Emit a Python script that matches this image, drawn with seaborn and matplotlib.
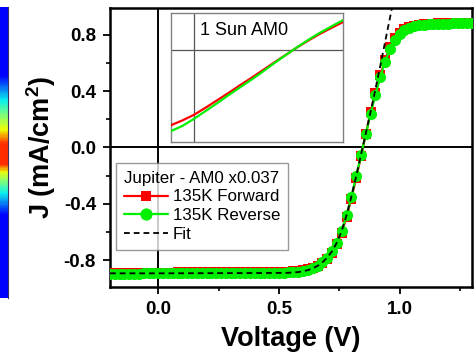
import numpy as np
import matplotlib
matplotlib.use("Agg")
import matplotlib.pyplot as plt
from matplotlib.colors import LinearSegmentedColormap
import seaborn as sns

# ---- J-V sweep at 135 K under Jupiter-equivalent illumination (AM0 x0.037) ----
volts = [-0.20, -0.18, -0.16, -0.14, -0.12, -0.10, -0.08, -0.06, -0.04, -0.02,
         0.00, 0.02, 0.04, 0.06, 0.08, 0.10, 0.12, 0.14, 0.16, 0.18,
         0.20, 0.22, 0.24, 0.26, 0.28, 0.30, 0.32, 0.34, 0.36, 0.38,
         0.40, 0.42, 0.44, 0.46, 0.48, 0.50, 0.52, 0.54, 0.56, 0.58,
         0.60, 0.62, 0.64, 0.66, 0.68, 0.70, 0.72, 0.74, 0.76, 0.78,
         0.80, 0.82, 0.84, 0.86, 0.88, 0.90, 0.92, 0.94, 0.96, 0.98,
         1.00, 1.02, 1.04, 1.06, 1.08, 1.10, 1.12, 1.14, 1.16, 1.18,
         1.20, 1.22, 1.24, 1.26, 1.28, 1.30]

j_forward = [-0.890, -0.890, -0.889, -0.889, -0.889, -0.889, -0.889, -0.888, -0.888, -0.888,
             -0.888, -0.888, -0.888, -0.888, -0.887, -0.887, -0.887, -0.887, -0.887, -0.887,
             -0.887, -0.887, -0.887, -0.886, -0.886, -0.886, -0.886, -0.886, -0.886, -0.885,
             -0.885, -0.885, -0.884, -0.884, -0.883, -0.882, -0.882, -0.881, -0.880, -0.878,
             -0.872, -0.863, -0.853, -0.838, -0.818, -0.790, -0.748, -0.687, -0.604, -0.494,
             -0.362, -0.217, -0.062, 0.095, 0.250, 0.387, 0.512, 0.622, 0.712, 0.775,
             0.816, 0.841, 0.856, 0.865, 0.871, 0.875, 0.878, 0.880, 0.882, 0.883,
             0.884, 0.885, 0.885, 0.886, 0.886, 0.887]

j_reverse = [-0.896, -0.896, -0.895, -0.895, -0.895, -0.895, -0.895, -0.894, -0.894, -0.894,
             -0.894, -0.894, -0.894, -0.894, -0.893, -0.893, -0.893, -0.893, -0.893, -0.893,
             -0.893, -0.893, -0.893, -0.892, -0.892, -0.892, -0.892, -0.892, -0.892, -0.891,
             -0.891, -0.891, -0.890, -0.890, -0.889, -0.888, -0.888, -0.887, -0.886, -0.884,
             -0.877, -0.867, -0.855, -0.838, -0.815, -0.782, -0.737, -0.675, -0.592, -0.482,
             -0.350, -0.205, -0.055, 0.095, 0.240, 0.375, 0.500, 0.610, 0.700, 0.765,
             0.808, 0.835, 0.851, 0.861, 0.867, 0.871, 0.874, 0.876, 0.878, 0.879,
             0.880, 0.881, 0.881, 0.882, 0.882, 0.883]

# diode-model fit
fit_v = [-0.20, 0.00, 0.20, 0.40, 0.50, 0.52, 0.54, 0.56, 0.58, 0.60, 0.62, 0.64,
         0.66, 0.68, 0.70, 0.72, 0.74, 0.76, 0.78, 0.80, 0.82, 0.84, 0.86, 0.88,
         0.90, 0.92, 0.94, 0.96, 0.975]
fit_j = [-0.893, -0.893, -0.892, -0.891, -0.890, -0.890, -0.889, -0.887, -0.884, -0.879,
         -0.870, -0.858, -0.840, -0.815, -0.782, -0.737, -0.675, -0.592, -0.482, -0.350,
         -0.205, -0.050, 0.100, 0.255, 0.415, 0.580, 0.750, 0.920, 1.050]

# ---- 1 Sun AM0 sweep (inset) ----
sun_v = [-0.2, -0.1, 0.0, 0.1, 0.2, 0.3, 0.4, 0.5, 0.6, 0.7, 0.8, 0.9, 1.0, 1.1, 1.2, 1.3]
sun_fwd = [-20.4, -19.1, -17.6, -15.7, -13.7, -11.7, -9.6, -7.6, -5.5, -3.4, -1.35, 0.7,
           2.6, 4.4, 6.0, 7.6]
sun_rev = [-22.0, -20.6, -18.7, -16.6, -14.5, -12.3, -10.2, -8.1, -5.9, -3.6, -1.4, 0.75,
           2.8, 4.7, 6.4, 8.1]

x_ticks = [0.0, 0.5, 1.0]
y_ticks = [-0.8, -0.4, 0.0, 0.4, 0.8]

sns.set_theme(style="ticks")
plt.rcParams["font.family"] = ["Liberation Sans", "DejaVu Sans"]
plt.rcParams["mathtext.fontset"] = "custom"
plt.rcParams["mathtext.rm"] = "Liberation Sans"
plt.rcParams["mathtext.bf"] = "Liberation Sans:bold"
for key in ("text.color", "axes.labelcolor", "xtick.color", "ytick.color",
            "xtick.labelcolor", "ytick.labelcolor"):
    plt.rcParams[key] = "black"

RED = "#ff0000"
GREEN = "#00f000"

fig = plt.figure(figsize=(4.76, 3.59), dpi=100)
ax = fig.add_axes([0.2311, 0.2006, 0.7605, 0.7771])

ax.axhline(0, color="black", lw=1.4, zorder=1)
ax.axvline(0, color="black", lw=1.4, zorder=1)

sns.lineplot(x=volts, y=j_forward, ax=ax, color=RED, marker="s", markersize=6.5,
             markeredgewidth=0, lw=1.6, label="135K Forward", zorder=3)
sns.lineplot(x=volts, y=j_reverse, ax=ax, color=GREEN, marker="o", markersize=8,
             markeredgewidth=0, lw=1.6, label="135K Reverse", zorder=4)
sns.lineplot(x=fit_v, y=fit_j, ax=ax, color="black", linestyle=(0, (3.2, 2.2)),
             lw=1.3, label="Fit", zorder=5)

ax.set_xlim(-0.2, 1.3)
ax.set_ylim(-0.99, 0.99)
ax.set_xticks(x_ticks)
ax.set_xticklabels([f"{t:.1f}" for t in x_ticks])
ax.set_yticks(y_ticks)
ax.set_yticklabels([f"{t:.1f}" for t in y_ticks])
ax.set_xticks([0.25, 0.75, 1.25], minor=True)
ax.set_yticks([-0.6, -0.2, 0.2, 0.6], minor=True)
ax.tick_params(axis="both", which="major", direction="out", length=5, width=1.3,
               labelsize=13.5, color="black", labelcolor="black", pad=5)
ax.tick_params(axis="both", which="minor", direction="out", length=3, width=1.2,
               color="black")
for lab in ax.get_xticklabels() + ax.get_yticklabels():
    lab.set_fontweight("bold")
for sp in ax.spines.values():
    sp.set_visible(True)
    sp.set_color("black")
    sp.set_linewidth(1.8)

ax.set_xlabel("Voltage (V)", fontsize=19.5, fontweight="bold", labelpad=5.5,
              color="black")
ax.set_ylabel(r"J (mA/cm$^{\mathbf{2}}$)", fontsize=19.5, fontweight="bold",
              labelpad=4, color="black")

leg = ax.legend(title="Jupiter - AM0 x0.037", loc="upper left",
                bbox_to_anchor=(0.0166, 0.444), borderaxespad=0, fontsize=12.2,
                title_fontsize=12.2, frameon=True, fancybox=False, edgecolor="#808080",
                handlelength=2.6, alignment="left", labelspacing=0.22,
                borderpad=0.45, handletextpad=0.3, markerscale=1.1)
leg.get_frame().set_linewidth(1.0)
for t in leg.get_texts():
    t.set_color("black")
leg.get_title().set_color("black")

# inset: 1 Sun AM0
ins = fig.add_axes([0.359, 0.604, 0.361, 0.359])
ins.set_facecolor("white")
ins.axhline(0, color="#555555", lw=0.9, zorder=1)
ins.axvline(0, color="#555555", lw=0.9, zorder=1)
sns.lineplot(x=sun_v, y=sun_fwd, ax=ins, color=RED, lw=1.6, zorder=3)
sns.lineplot(x=sun_v, y=sun_rev, ax=ins, color=GREEN, lw=1.6, zorder=4)
ins.set_xlim(-0.2, 1.3)
ins.set_ylim(-25, 10)
ins.set_xticks([])
ins.set_yticks([])
ins.set_xlabel("")
ins.set_ylabel("")
for sp in ins.spines.values():
    sp.set_visible(True)
    sp.set_color("#808080")
    sp.set_linewidth(1.0)
ins.text(0.169, 0.868, "1 Sun AM0", transform=ins.transAxes, fontsize=13,
         ha="left", va="center", color="black")

# colour scale strip at the left edge
stops = [(0.0, 0.11), (0.234, 0.11), (0.32, 0.36), (0.37, 0.5), (0.42, 0.64),
         (0.47, 0.86), (0.54, 0.86), (0.567, 0.64), (0.60, 0.5), (0.64, 0.36),
         (0.715, 0.11), (1.0, 0.11)]
cmap = LinearSegmentedColormap.from_list("strip", [(p, plt.cm.jet(v)) for p, v in stops])
cax = fig.add_axes([0.0, 1 - 298 / 359, 8 / 476, 291 / 359])
cax.imshow(np.linspace(0, 1, 300)[:, None], aspect="auto", cmap=cmap,
           interpolation="bilinear")
cax.set_xticks([])
cax.set_yticks([])
for sp in cax.spines.values():
    sp.set_visible(False)
cax.spines["right"].set_visible(True)
cax.spines["right"].set_color("#333366")
cax.spines["right"].set_linewidth(0.8)

fig.savefig("out.png", dpi=100)
